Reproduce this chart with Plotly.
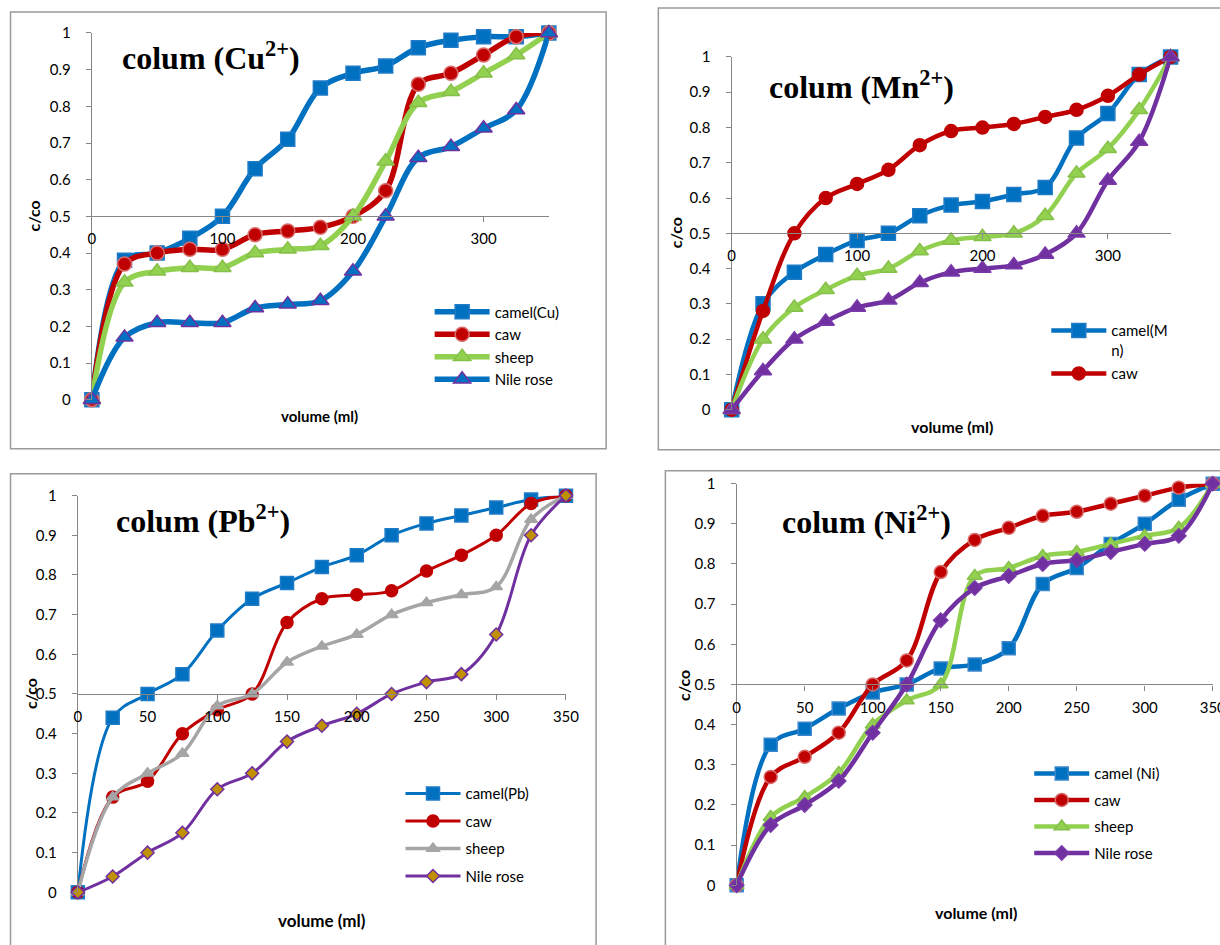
import plotly.graph_objects as go

# figure size and the measured mapping between figure pixels and the photographed page
FW, FH = 1240, 960
AX, AY, B = 3.5, 10.0, 0.982

# ---------------- data ----------------
volume = [0, 25, 50, 75, 100, 125, 150, 175, 200, 225, 250, 275, 300, 325, 350]

cu_camel = [0, 0.38, 0.40, 0.44, 0.50, 0.63, 0.71, 0.85, 0.89, 0.91, 0.96, 0.98, 0.99, 0.99, 1.0]
cu_caw = [0, 0.37, 0.40, 0.41, 0.41, 0.45, 0.46, 0.47, 0.50, 0.57, 0.86, 0.89, 0.94, 0.99, 1.0]
cu_sheep = [0, 0.32, 0.35, 0.36, 0.36, 0.40, 0.41, 0.42, 0.50, 0.65, 0.81, 0.84, 0.89, 0.94, 1.0]
cu_nile = [0, 0.17, 0.21, 0.21, 0.21, 0.25, 0.26, 0.27, 0.35, 0.50, 0.66, 0.69, 0.74, 0.79, 1.0]

mn_camel = [0, 0.30, 0.39, 0.44, 0.48, 0.50, 0.55, 0.58, 0.59, 0.61, 0.63, 0.77, 0.84, 0.95, 1.0]
mn_caw = [0, 0.28, 0.50, 0.60, 0.64, 0.68, 0.75, 0.79, 0.80, 0.81, 0.83, 0.85, 0.89, 0.95, 1.0]
mn_sheep = [0, 0.20, 0.29, 0.34, 0.38, 0.40, 0.45, 0.48, 0.49, 0.50, 0.55, 0.67, 0.74, 0.85, 1.0]
mn_nile = [0, 0.11, 0.20, 0.25, 0.29, 0.31, 0.36, 0.39, 0.40, 0.41, 0.44, 0.50, 0.65, 0.76, 1.0]

pb_camel = [0, 0.44, 0.50, 0.55, 0.66, 0.74, 0.78, 0.82, 0.85, 0.90, 0.93, 0.95, 0.97, 0.99, 1.0]
pb_caw = [0, 0.24, 0.28, 0.40, 0.46, 0.50, 0.68, 0.74, 0.75, 0.76, 0.81, 0.85, 0.90, 0.98, 1.0]
pb_sheep = [0, 0.24, 0.30, 0.35, 0.47, 0.50, 0.58, 0.62, 0.65, 0.70, 0.73, 0.75, 0.77, 0.94, 1.0]
pb_nile = [0, 0.04, 0.10, 0.15, 0.26, 0.30, 0.38, 0.42, 0.45, 0.50, 0.53, 0.55, 0.65, 0.90, 1.0]

ni_camel = [0, 0.35, 0.39, 0.44, 0.48, 0.50, 0.54, 0.55, 0.59, 0.75, 0.79, 0.85, 0.90, 0.96, 1.0]
ni_caw = [0, 0.27, 0.32, 0.38, 0.50, 0.56, 0.78, 0.86, 0.89, 0.92, 0.93, 0.95, 0.97, 0.99, 1.0]
ni_sheep = [0, 0.17, 0.22, 0.28, 0.40, 0.46, 0.50, 0.77, 0.79, 0.82, 0.83, 0.85, 0.87, 0.89, 1.0]
ni_nile = [0, 0.15, 0.20, 0.26, 0.38, 0.50, 0.66, 0.74, 0.77, 0.80, 0.81, 0.83, 0.85, 0.87, 1.0]

y_ticks = [0, 0.1, 0.2, 0.3, 0.4, 0.5, 0.6, 0.7, 0.8, 0.9, 1]
y_tick_text = ["0", "0.1", "0.2", "0.3", "0.4", "0.5", "0.6", "0.7", "0.8", "0.9", "1"]

# ---------------- styling ----------------
BLUE = "#0070C0"
RED = "#C00000"
GREEN = "#92D050"
PURPLE = "#7030A0"
GREY = "#A5A5A5"
GOLD = "#BF9000"
AXIS = "#868686"
TICKFONT = dict(family="Lato", size=15, color="#000000")


def fx(x):  # target page x -> figure pixel
    return (x - AX) / B


def fy(y):  # target page y -> figure pixel
    return (y - AY) / B


def px(x):
    return fx(x) / FW


def py(y):
    return 1 - fy(y) / FH


# panel geometry (target page-pixel positions of plot areas)
panels = {
    "cu": dict(x=(91, 546), y=(400, 33), dtick=100),
    "mn": dict(x=(728, 1165), y=(410, 57), dtick=100),
    "pb": dict(x=(77, 563), y=(893, 496), dtick=50),
    "ni": dict(x=(733, 1207), y=(886, 484), dtick=50),
}

fig = go.Figure()


def add(idx, name, yvals, lcolor, lwidth, symbol, msize, mfill, mline, legend, show=True):
    fig.add_trace(go.Scatter(
        x=volume, y=yvals, name=name, mode="lines+markers",
        line=dict(color=lcolor, width=lwidth, shape="spline", smoothing=1.0),
        marker=dict(symbol=symbol, size=msize, color=mfill, line=dict(color=mline, width=1.5)),
        xaxis="x" if idx == 1 else f"x{idx}", yaxis="y" if idx == 1 else f"y{idx}",
        legend=legend, legendgroup=f"{legend}_{name}", showlegend=show, cliponaxis=False,
    ))


# Cu panel
add(1, "camel(Cu)", cu_camel, BLUE, 5.5, "square", 14, BLUE, "#1F7BC6", "legend")
add(1, "caw", cu_caw, RED, 5.5, "circle", 14, RED, "#D96B6B", "legend")
add(1, "sheep", cu_sheep, GREEN, 5.5, "triangle-up", 15, GREEN, "#86BF4A", "legend")
add(1, "Nile rose", cu_nile, BLUE, 5.5, "triangle-up", 15, BLUE, PURPLE, "legend")

# Mn panel
add(2, "camel(M<br>n)", mn_camel, BLUE, 4.5, "square", 14, BLUE, "#1F7BC6", "legend2")
add(2, "caw", mn_caw, RED, 4.5, "circle", 13, RED, RED, "legend2")
add(2, "sheep", mn_sheep, GREEN, 4.5, "triangle-up", 15, GREEN, "#86BF4A", "legend2", show=False)
add(2, "Nile rose", mn_nile, PURPLE, 4.5, "triangle-up", 15, PURPLE, "#7A3AAA", "legend2", show=False)

# Pb panel
add(3, "camel(Pb)", pb_camel, BLUE, 3, "square", 13, BLUE, "#1F7BC6", "legend3")
add(3, "caw", pb_caw, RED, 3, "circle", 12, RED, RED, "legend3")
add(3, "sheep", pb_sheep, GREY, 3.5, "triangle-up", 11, GREY, GREY, "legend3")
add(3, "Nile rose", pb_nile, PURPLE, 3, "diamond", 10, GOLD, PURPLE, "legend3")

# Ni panel
add(4, "camel (Ni)", ni_camel, BLUE, 4.5, "square", 13, BLUE, "#3A86CC", "legend4")
add(4, "caw", ni_caw, RED, 4.5, "circle", 13, RED, "#D96B6B", "legend4")
add(4, "sheep", ni_sheep, GREEN, 4.5, "triangle-up", 13, GREEN, "#86BF4A", "legend4")
add(4, "Nile rose", ni_nile, PURPLE, 4.5, "diamond", 11, PURPLE, "#7A3AAA", "legend4")

layout = dict(
    width=FW, height=FH, margin=dict(l=0, r=0, t=0, b=0),
    paper_bgcolor="white", plot_bgcolor="rgba(0,0,0,0)",
    font=dict(family="Lato", color="#000000"),
)

for i, key in enumerate(["cu", "mn", "pb", "ni"], start=1):
    p = panels[key]
    xs = "" if i == 1 else str(i)
    ydom = [py(p["y"][0]), py(p["y"][1])]
    layout[f"xaxis{xs}"] = dict(
        domain=[px(p["x"][0]), px(p["x"][1])], range=[0, 350],
        tick0=0, dtick=p["dtick"], anchor="free",
        position=(ydom[0] + ydom[1]) / 2,
        showline=True, linecolor=AXIS, linewidth=1.3,
        ticks="outside", ticklen=5, tickcolor=AXIS, tickwidth=1.3,
        showgrid=False, zeroline=False, tickfont=TICKFONT, ticklabelstandoff=4,
    )
    layout[f"yaxis{xs}"] = dict(
        domain=ydom, range=[0, 1], anchor=f"x{xs}",
        tickvals=y_ticks, ticktext=y_tick_text,
        showline=True, linecolor=AXIS, linewidth=1.3,
        ticks="outside", ticklen=5, tickcolor=AXIS, tickwidth=1.3,
        showgrid=False, zeroline=False, tickfont=TICKFONT, ticklabelstandoff=12,
    )

legend_common = dict(
    bgcolor="rgba(0,0,0,0)", font=dict(family="Lato", size=15, color="#000000"),
    xanchor="left", yanchor="top", itemwidth=55, traceorder="grouped",
    itemclick=False, itemdoubleclick=False, valign="top",
)
# legend anchor: target text-left x and first-row centre y
TXT_OFF, ROW_OFF = 71, 15.5
layout["legend"] = dict(legend_common, x=(fx(497) - TXT_OFF) / FW, y=1 - (fy(311) - ROW_OFF) / FH, tracegroupgap=0)
layout["legend2"] = dict(legend_common, x=(fx(1111) - TXT_OFF) / FW, y=1 - (fy(329) - 14.8) / FH, tracegroupgap=1)
layout["legend3"] = dict(legend_common, x=(fx(468) - TXT_OFF) / FW, y=1 - (fy(793) - ROW_OFF) / FH, tracegroupgap=5)
layout["legend4"] = dict(legend_common, x=(fx(1094) - TXT_OFF) / FW, y=1 - (fy(773) - ROW_OFF) / FH, tracegroupgap=4)

fig.update_layout(**layout)

# panel borders
borders = [(10, 12, 603, 449), (655, 8, 1240, 450), (10, 474, 593, 970), (662, 471, 1240, 970)]
for x0, y0, x1, y1 in borders:
    fig.add_shape(type="rect", xref="paper", yref="paper",
                  x0=px(x0), x1=px(x1), y0=py(y1), y1=py(y0),
                  line=dict(color="#9A9A9A", width=1.5), fillcolor="rgba(0,0,0,0)", layer="below")

# chart titles
titles = [("colum (Cu<sup>2+</sup>)", 119, 56), ("colum (Mn<sup>2+</sup>)", 763, 85),
          ("colum (Pb<sup>2+</sup>)", 113, 519), ("colum (Ni<sup>2+</sup>)", 776, 520)]
for text, x, y in titles:
    fig.add_annotation(text=f"<b>{text}</b>", x=px(x), y=py(y), xref="paper", yref="paper",
                       xanchor="left", yanchor="middle", showarrow=False,
                       font=dict(family="Liberation Serif", size=32, color="#000000"))

# axis titles
ytitles = [(33, 216), (672, 233), (30, 694), (680, 686)]
for x, y in ytitles:
    fig.add_annotation(text="<b>c/co</b>", x=px(x), y=py(y), xref="paper", yref="paper",
                       textangle=-90, showarrow=False, xanchor="center", yanchor="middle",
                       font=dict(family="Lato", size=16, color="#000000"))
xtitles = [(318, 416, 15), (947, 427, 16), (320, 921, 17), (971, 913, 16)]
for x, y, s in xtitles:
    fig.add_annotation(text="<b>volume (ml)</b>", x=px(x), y=py(y), xref="paper", yref="paper",
                       showarrow=False, xanchor="center", yanchor="middle",
                       font=dict(family="Lato", size=s, color="#000000"))

fig.write_html("out.html")
